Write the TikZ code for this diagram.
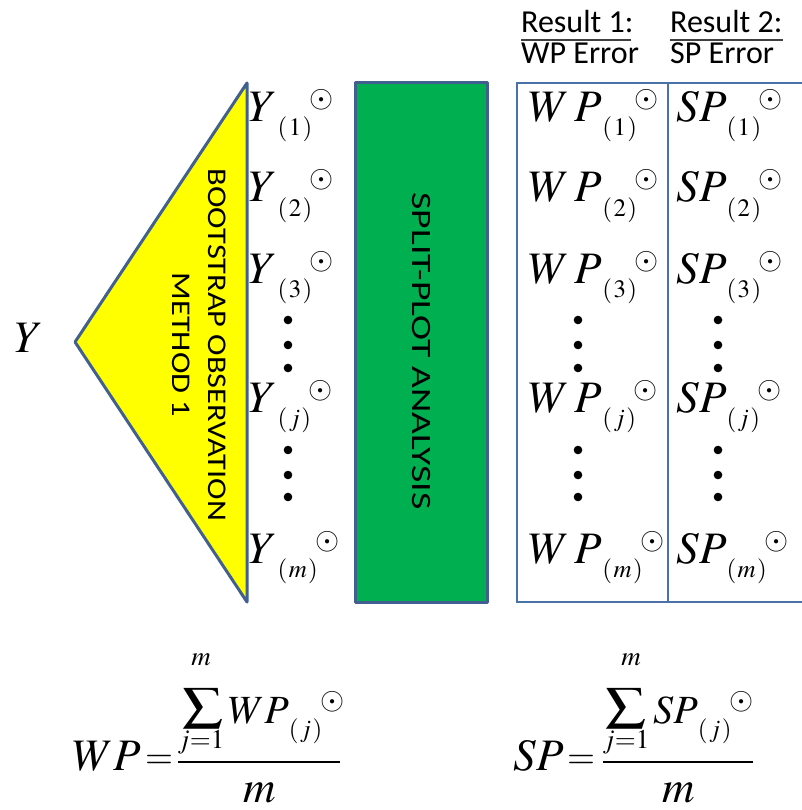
\documentclass[tikz,border=0pt]{standalone}
\usepackage{graphicx}
\usepackage{mathptmx}
\usepackage[no-math]{fontspec}
\newfontfamily\calib{Carlito}
\definecolor{edgeblue}{HTML}{41608F}
\definecolor{boxblue}{HTML}{4A72A8}
\definecolor{splitgreen}{HTML}{00B050}
\definecolor{bootyellow}{HTML}{FFFF00}
% Beobachtung mit tiefgestelltem Index und Kreis-Punkt
\newcommand\obs[2]{#1\lower14pt\hbox{\fontsize{25}{25}\selectfont$(\mkern1mu#2\mkern1mu)$}\mkern-1mu\raise14pt\hbox{\fontsize{31}{31}\selectfont$\odot$}}
\begin{document}
\begin{tikzpicture}[x=1pt, y=-1pt,
    every node/.style={inner sep=0pt},
    bigmath/.style={font=\fontsize{45}{50}\selectfont},
    summath/.style={font=\fontsize{40}{44}\selectfont, anchor=base west},
    eqsign/.style={font=\fontsize{36}{40}\selectfont, anchor=base west},
    limtext/.style={font=\fontsize{27}{27}\selectfont, anchor=base},
    headtext/.style={font=\calib\fontsize{32}{34}\selectfont, anchor=base west},
    shapeline/.style={draw=edgeblue, line width=3pt, line join=round},
    rottext/.style={font=\calib\fontsize{27}{36}\selectfont, align=center,
      transform shape, rotate=-90, xscale=1.2}]
  \useasboundingbox (0,0) rectangle (801,810);
  % Eingangsgroesse
  \node[bigmath] (yin) at (29,338) {$Y$};
  % Bootstrap-Dreieck
  \draw[shapeline, fill=bootyellow] (75,342) -- (247,83) -- (247,602) -- cycle;
  \node[rottext] (boot) at (199,345) {BOOTSTRAP OBSERVATION\\METHOD 1};
  % Split-Plot-Block
  \draw[shapeline, fill=splitgreen] (355,83) rectangle (487,602);
  \node[rottext, font=\calib\fontsize{28}{30}\selectfont, xscale=1.12] (split) at (421,351) {SPLIT-PLOT ANALYSIS};
  % Ergebnis-Kasten
  \draw[boxblue, line width=2.5pt] (805,83) -- (517,83) -- (517,602) -- (805,602);
  \draw[boxblue, line width=2.5pt] (668,83) -- (668,602);
  % Kopfzeilen
  \node[headtext] (res1) at (521,33) {Result 1:};
  \node[headtext] (wperr) at (521,64) {WP Error};
  \node[headtext] (res2) at (670,33) {Result 2:};
  \node[headtext] (sperr) at (670,64) {SP Error};
  \draw[black!75, line width=1.5pt] ([yshift=-7pt]res1.base west) -- ([yshift=-7pt,xshift=-3pt]res1.base east);
  \draw[black!75, line width=1.5pt] ([yshift=-7pt]res2.base west) -- ([yshift=-7pt]res2.base east);
  % Zeilen
  \foreach \k/\yy in {1/122, 2/202, 3/283, j/412, m/563}{
    \node[bigmath, anchor=base west] (y\k) at (249,\yy) {$\obs{Y}{\k}$};
    \node[bigmath, anchor=base west] (wp\k) at (529,\yy) {$\obs{W\mkern2mu P}{\k}$};
    \node[bigmath, anchor=base west] (sp\k) at (676,\yy) {$\obs{SP}{\k}$};
  }
  % Punkte
  \foreach \cx in {288, 578, 718}{
    \foreach \cy in {320, 345, 368, 450, 475, 497}{
      \fill (\cx,\cy) circle (4.3pt);
    }
  }
  % Mittelwert WP
  \node[bigmath, anchor=base west] (wplhs) at (73,770) {$WP$};
  \node[eqsign] (wpeq) at (145,768) {$=$};
  \node (wpsum) at (202.5,708) {\resizebox*{41pt}{40pt}{$\sum$}};
  \node[limtext] (wptop) at (201,665) {$m$};
  \node[limtext] (wpbot) at (201,748) {$j{=}1$};
  \node[summath] (wpterm) at (228,723) {$\obs{WP}{j}$};
  \coordinate (wpbarl) at (178,762);
  \coordinate (wpbarr) at (340,762);
  \draw[line width=1.8pt] (wpbarl) -- (wpbarr);
  \node[bigmath, anchor=base] (wpden) at (260,802) {$m$};
  % Mittelwert SP
  \node[bigmath, anchor=base west] (splhs) at (513,770) {$SP$};
  \node[eqsign] (speq) at (567,768) {$=$};
  \node (spsum) at (626,708) {\resizebox*{41pt}{40pt}{$\sum$}};
  \node[limtext] (sptop) at (631,665) {$m$};
  \node[limtext] (spbot) at (626,748) {$j{=}1$};
  \node[summath] (spterm) at (653,723) {$\obs{SP}{j}$};
  \coordinate (spbarl) at (603,762);
  \coordinate (spbarr) at (753,762);
  \draw[line width=1.8pt] (spbarl) -- (spbarr);
  \node[bigmath, anchor=base] (spden) at (679,802) {$m$};
\end{tikzpicture}
\end{document}
